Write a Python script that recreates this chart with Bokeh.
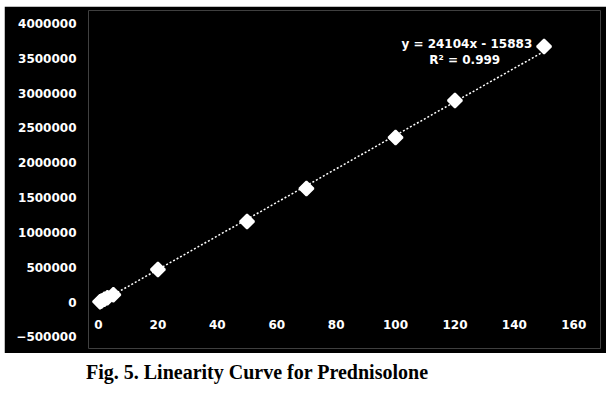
from bokeh.plotting import figure
from bokeh.models import ColumnDataSource, FixedTicker, BasicTickFormatter, Label, Div, Range1d
from bokeh.layouts import column
from bokeh.core.properties import value
from bokeh.embed import file_html
from bokeh.resources import INLINE
import math

# ---- data ----
conc = [0.5, 1, 2, 3, 5, 20, 50, 70, 100, 120, 150]
area = [5000, 15000, 40000, 60000, 105000, 467000, 1157000, 1631000, 2363000, 2895000, 3671000]
slope = 24104
intercept = -15883
eq_text = "y = 24104x - 15883"
r2_text = "R\u00b2 = 0.999"
x_ticks = [0, 20, 40, 60, 80, 100, 120, 140, 160]
y_ticks = [-500000, 0, 500000, 1000000, 1500000, 2000000, 2500000, 3000000, 3500000, 4000000]
caption = "Fig. 5. Linearity Curve for Prednisolone"

FONT = "DejaVu Sans"

p = figure(width=602, height=347, output_backend="svg", toolbar_location=None,
           x_axis_location=None,
           x_range=Range1d(-3.37, 169.0), y_range=Range1d(-668000, 4188000),
           min_border_left=84, min_border_right=6, min_border_top=4, min_border_bottom=5,
           background_fill_color="black", border_fill_color="black",
           outline_line_color=None, margin=(6, 4, 0, 4))
p.grid.visible = False

ya = p.yaxis[0]
ya.ticker = FixedTicker(ticks=y_ticks)
ya.formatter = BasicTickFormatter(use_scientific=False)
ya.axis_line_color = None
ya.major_tick_line_color = None
ya.minor_tick_line_color = None
ya.major_label_text_color = "white"
ya.major_label_text_font = FONT
ya.major_label_text_font_style = "bold"
ya.major_label_text_font_size = "12px"
ya.major_label_standoff = 6

# trendline over data range
x0, x1 = min(conc), max(conc)
p.line([x0, x1], [slope * x0 + intercept, slope * x1 + intercept],
       line_color="white", line_width=1.5, line_dash="2 2")

# points
p.scatter(conc, area, marker="square", size=10, angle=math.pi / 4,
          fill_color="white", line_color="white", line_width=2)

# x tick labels drawn inside the plot (axis crosses at y=0)
X_LABEL_Y = -323000
xsrc = ColumnDataSource(dict(x=x_ticks, y=[X_LABEL_Y] * len(x_ticks), t=[str(v) for v in x_ticks]))
p.text(x="x", y="y", text="t", source=xsrc, text_color="white",
       text_font=value(FONT), text_font_style="bold", text_font_size="12px",
       text_align="center", text_baseline="middle")

# equation labels
p.add_layout(Label(x=124.0, y=3700000, text=eq_text, text_color="white",
                   text_font=FONT, text_font_style="bold", text_font_size="12px",
                   text_align="center", text_baseline="middle"))
p.add_layout(Label(x=123.3, y=3470000, text=r2_text, text_color="white",
                   text_font=FONT, text_font_style="bold", text_font_size="12px",
                   text_align="center", text_baseline="middle"))

div = Div(text=caption, width=500, height=30, margin=(5, 0, 0, 86),
          styles={"font-family": "Liberation Serif", "font-weight": "bold",
                  "font-size": "20px", "color": "black", "white-space": "nowrap"})

layout = column(p, div)
open("out.html", "w").write(file_html(layout, INLINE))
